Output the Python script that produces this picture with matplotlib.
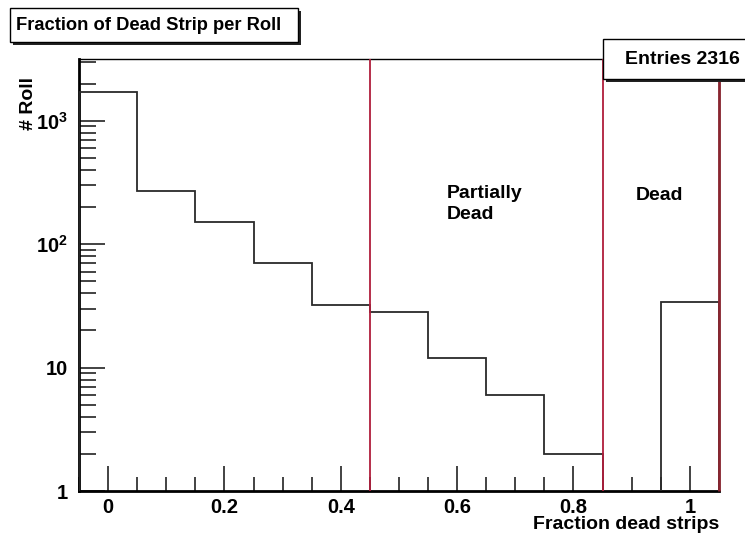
import numpy as np
import matplotlib
matplotlib.use("Agg")
import matplotlib.pyplot as plt
from matplotlib.patches import Rectangle
from matplotlib.ticker import FixedLocator, FuncFormatter, LogLocator, NullFormatter, MultipleLocator

# histogram contents, bins of width 0.1 centred on 0.0 .. 1.0
bin_edges = np.round(np.arange(-0.05, 1.06, 0.1), 2)
counts = [1713, 269, 150, 70, 32, 28, 12, 6, 2, 0, 34]
entries = 2316
region_cuts = [0.45, 0.85, 1.05]
cut_colors = ['#b01e3c', '#b01e3c', '#8a2530']

title = "Fraction of Dead Strip per Roll"
xlabel = "Fraction dead strips"
ylabel = "# Roll"

plt.rcParams['font.family'] = ['Liberation Sans', 'DejaVu Sans']
plt.rcParams['font.weight'] = 'bold'
plt.rcParams['mathtext.fontset'] = 'custom'
plt.rcParams['mathtext.bf'] = 'Liberation Sans:bold'
plt.rcParams['mathtext.rm'] = 'Liberation Sans:bold'

fig = plt.figure(figsize=(7.45, 5.41), dpi=100)
ax = fig.add_axes([0.106, 0.0924, 0.859, 0.7986])

ax.stairs(counts, bin_edges, color='#2a2a2a', lw=1.3, baseline=None, zorder=3)
# closing verticals of the outline down to the axis
ax.vlines([bin_edges[0], bin_edges[-1]], 1, [counts[0], counts[-1]], color='#2a2a2a', lw=1.3, zorder=3)

ax.set_yscale('log')
ax.set_xlim(-0.05, 1.05)
ax.set_ylim(1, 3162)

ax.vlines(region_cuts, 1, 3162, colors=cut_colors, lw=[1.3, 1.3, 2.0], zorder=4, clip_on=False)

# ticks like ROOT: inward, left + bottom only
ax.xaxis.set_major_locator(MultipleLocator(0.2))
ax.xaxis.set_minor_locator(MultipleLocator(0.05))
ax.xaxis.set_major_formatter(FuncFormatter(lambda v, p: '0' if abs(v) < 1e-9 else ('1' if abs(v - 1) < 1e-9 else f'{v:.1f}')))
ax.yaxis.set_major_locator(FixedLocator([1, 10, 100, 1000]))
ax.yaxis.set_minor_locator(LogLocator(base=10, subs=np.arange(2, 10)))
ax.yaxis.set_minor_formatter(NullFormatter())
ylabels = {1: '1', 10: '10', 100: r'$\mathbf{10^{2}}$', 1000: r'$\mathbf{10^{3}}$'}
ax.yaxis.set_major_formatter(FuncFormatter(lambda v, p: ylabels.get(int(round(v)), '')))

ax.tick_params(which='both', direction='in', top=False, right=False, labelsize=14.5, width=1.2, color='#222222')
ax.tick_params(axis='x', which='major', length=18, pad=5)
ax.tick_params(axis='x', which='minor', length=10)
ax.tick_params(axis='y', which='major', length=19, pad=8)
ax.tick_params(axis='y', which='minor', length=12)
for lab in ax.get_xticklabels() + ax.get_yticklabels():
    lab.set_fontweight('bold')

for side in ['left', 'bottom']:
    ax.spines[side].set_linewidth(2.0)
for side in ['top', 'right']:
    ax.spines[side].set_linewidth(1.0)

ax.text(0.575, 0.664, "Partially\nDead", transform=ax.transAxes, ha='left', va='center',
        fontsize=14, fontweight='bold', linespacing=1.3)
ax.text(0.870, 0.683, "Dead", transform=ax.transAxes, ha='left', va='center',
        fontsize=14, fontweight='bold')

fig.text(0.965, 0.03, xlabel, ha='right', va='center', fontsize=14, fontweight='bold')
fig.text(0.038, 1 - 77 / 541, ylabel, rotation=90, ha='center', va='top', fontsize=14, fontweight='bold')

# title box with shadow
W, H = 745.0, 541.0
fig.patches.append(Rectangle((13 / W, 1 - 45 / H), 288 / W, 34 / H, transform=fig.transFigure,
                             facecolor='#222222', edgecolor='none', zorder=5))
fig.patches.append(Rectangle((10 / W, 1 - 42 / H), 288 / W, 34 / H, transform=fig.transFigure,
                             facecolor='white', edgecolor='black', lw=1.0, zorder=6))
fig.text(16 / W, 1 - 26 / H, title, ha='left', va='center', fontsize=13.2, fontweight='bold', zorder=7)

# stats box with shadow
fig.patches.append(Rectangle((606 / W, 1 - 82 / H), 160 / W, 40 / H, transform=fig.transFigure,
                             facecolor='#222222', edgecolor='none', zorder=5))
fig.patches.append(Rectangle((603 / W, 1 - 79 / H), 160 / W, 40 / H, transform=fig.transFigure,
                             facecolor='white', edgecolor='black', lw=1.0, zorder=6))
fig.text(682 / W, 1 - 60 / H, f"Entries {entries}", ha='center', va='center', fontsize=14,
         fontweight='bold', zorder=7)

fig.savefig("out.png", dpi=100)
